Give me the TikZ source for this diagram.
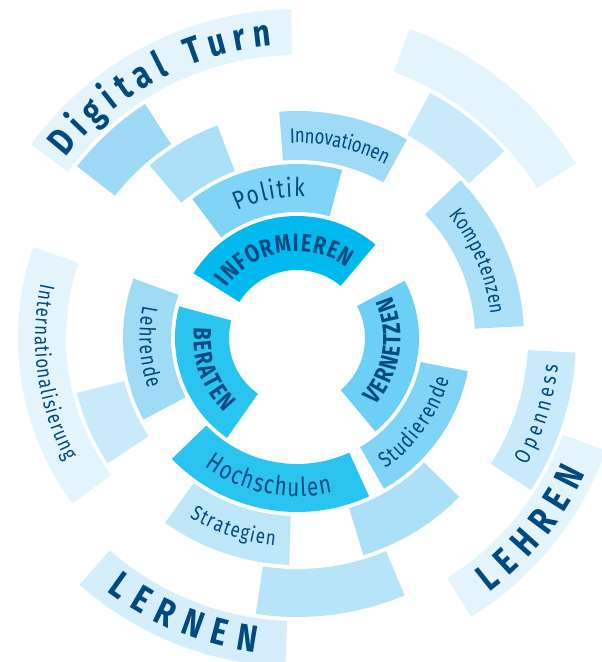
\documentclass[tikz,border=0pt]{standalone}
\usepackage{fontspec}
\newfontfamily\din{Fira Sans}[FakeStretch=0.8]
\usetikzlibrary{decorations.text}

\definecolor{ink}{HTML}{004A80}
\definecolor{cinform}{HTML}{00B9EF}
\definecolor{cvernetz}{HTML}{6CCFF6}
\definecolor{cberat}{HTML}{2AC4F1}
\definecolor{cpolitik}{HTML}{80D4F6}
\definecolor{clehr}{HTML}{A0DBF6}
\definecolor{cinnov}{HTML}{9FDBF7}
\definecolor{ckomp}{HTML}{ABE0F8}
\definecolor{cstrat}{HTML}{BDE6F9}
\definecolor{cpale}{HTML}{C8EAFA}
\definecolor{cdeep}{HTML}{9ED9F5}
\definecolor{cbottom}{HTML}{B8E4F9}
\definecolor{cfaint}{HTML}{E3F4FC}
\definecolor{clernen}{HTML}{D4EEFB}

\newcommand{\fbig}{\din\bfseries\fontsize{38}{42}\selectfont}
\newcommand{\fmid}{\din\bfseries\fontsize{25}{28}\selectfont}
\newcommand{\freg}{\din\fontsize{26}{29}\selectfont}
\newcommand{\fsml}{\din\fontsize{22}{25}\selectfont}
\newcommand{\ftiny}{\din\fontsize{21}{24}\selectfont}

% ring piece: from angle, to angle, inner radius, outer radius, colour
\newcommand{\ringseg}[5]{%
  \fill[#5] (#1:#3pt) arc[start angle=#1, end angle=#2, radius=#3pt]
    -- (#2:#4pt) arc[start angle=#2, end angle=#1, radius=#4pt] -- cycle;}

\tikzset{
  arclbl/.style={decorate, decoration={text along path, text align={fit to path}, text color=ink, raise=#1}},
}

\begin{document}
\begin{tikzpicture}
	\useasboundingbox (-297pt,-324pt) rectangle (305pt,338pt);

	% ring 1
	\ringseg{50}{148}{68}{122}{cinform}
	\ringseg{-50}{28}{68}{122}{cvernetz}
	\ringseg{165}{235}{68}{122}{cberat}

	% ring 2
	\ringseg{75}{127}{126}{174}{cpolitik}
	\ringseg{-60}{-11}{126}{174}{cpolitik}
	\ringseg{160}{208}{126}{174}{clehr}
	\ringseg{224}{294.5}{126}{174}{cberat}

	% ring 3
	\ringseg{61}{94.5}{178}{227}{cinnov}
	\ringseg{110.5}{130.5}{178}{227}{ckomp}
	\ringseg{3}{44}{178}{227}{ckomp}
	\ringseg{-73}{-44.4}{178}{227}{ckomp}
	\ringseg{234.5}{268}{178}{227}{cstrat}
	\ringseg{194}{213.5}{178}{227}{cpale}

	% ring 4
	\ringseg{123}{142}{231}{279}{cdeep}
	\ringseg{42}{61.5}{231}{279}{cpale}
	\ringseg{-33}{-3}{231}{279}{cpale}
	\ringseg{261.5}{292.7}{231}{279}{cbottom}
	\ringseg{161}{216.4}{231}{279}{cfaint}

	% ring 5
	\ringseg{91}{144}{283}{329}{cfaint}
	\ringseg{32}{70}{283}{329}{cfaint}
	\ringseg{-58}{-20}{283}{329}{cfaint}
	\ringseg{228.6}{268}{283}{329}{clernen}

	% labels
	\path[arclbl=-13pt, decoration={text={|\fbig|Digital Turn}}] (142:306pt) arc[start angle=142, end angle=95, radius=306pt];
	\path[arclbl=-13pt, decoration={text={|\fbig|LEHREN}}] (-53:306pt) arc[start angle=-53, end angle=-25, radius=306pt];
	\path[arclbl=-13pt, decoration={text={|\fbig|LERNEN}}] (233:304pt) arc[start angle=233, end angle=262.5, radius=304pt];

	\path[arclbl=-8.5pt, decoration={text={|\fmid|INFORMIEREN}}] (144:95pt) arc[start angle=144, end angle=55, radius=95pt];
	\path[arclbl=-8.5pt, decoration={text={|\fmid|VERNETZEN}}] (-41:95pt) arc[start angle=-41, end angle=24, radius=95pt];
	\path[arclbl=-8.5pt, decoration={text={|\fmid|BERATEN}}] (174:95pt) arc[start angle=174, end angle=226, radius=95pt];

	\path[arclbl=-9pt, decoration={text={|\freg|Politik}}] (115:150pt) arc[start angle=115, end angle=87, radius=150pt];
	\path[arclbl=-8.5pt, decoration={text={|\freg|Hochschulen}}] (234:150pt) arc[start angle=234, end angle=283, radius=150pt];
	\path[arclbl=-7.5pt, decoration={text={|\fsml|Studierende}}] (-56:150pt) arc[start angle=-56, end angle=-15, radius=150pt];
	\path[arclbl=-7.5pt, decoration={text={|\fsml|Lehrende}}] (168:150pt) arc[start angle=168, end angle=199, radius=150pt];

	\path[arclbl=-7pt, decoration={text={|\ftiny|Innovationen}}] (92:202pt) arc[start angle=92, end angle=63, radius=202pt];
	\path[arclbl=-7pt, decoration={text={|\ftiny|Kompetenzen}}] (39:202pt) arc[start angle=39, end angle=7, radius=202pt];
	\path[arclbl=-7pt, decoration={text={|\ftiny|Strategien}}] (239:202pt) arc[start angle=239, end angle=264, radius=202pt];

	\path[arclbl=-7pt, decoration={text={|\ftiny|Internationalisierung}}] (168:255pt) arc[start angle=168, end angle=208, radius=255pt];
	\path[arclbl=-7.5pt, decoration={text={|\fsml|Openness}}] (-29:255pt) arc[start angle=-29, end angle=-6, radius=255pt];
\end{tikzpicture}
\end{document}
